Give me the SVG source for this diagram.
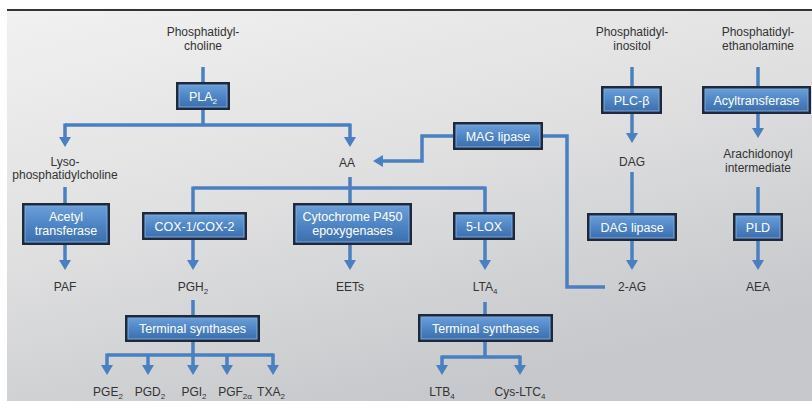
<svg xmlns="http://www.w3.org/2000/svg" width="812" height="401" viewBox="0 0 812 401">
<style>
.lbl{font-family:"Liberation Sans",Arial,sans-serif;font-size:12px;fill:#333;text-anchor:middle}
.btx{font-family:"Liberation Sans",Arial,sans-serif;font-size:12.5px;fill:#fff;text-anchor:middle}
.sub{font-size:8px}
.outer{fill:#1d2a3d}
.inner{fill:url(#boxg);stroke:#7fa9dd;stroke-width:1}
.ln{fill:none;stroke:#4a7fc0;stroke-width:3.5;stroke-linejoin:miter}
.ar{marker-end:url(#ah)}
</style>
<defs>
<linearGradient id="bg" x1="0" y1="0" x2="0.5" y2="1">
<stop offset="0" stop-color="#f1f1f1"/>
<stop offset="0.5" stop-color="#e0e0e1"/>
<stop offset="1" stop-color="#c6c8cb"/>
</linearGradient>
<linearGradient id="boxg" x1="0" y1="0" x2="0" y2="1">
<stop offset="0" stop-color="#6a9ed8"/>
<stop offset="0.5" stop-color="#4f86c6"/>
<stop offset="1" stop-color="#3c6fae"/>
</linearGradient>
<marker id="ah" markerUnits="userSpaceOnUse" viewBox="0 0 10 12" markerWidth="10" markerHeight="12" refX="1" refY="6" orient="auto">
<path d="M0,0 L10,6 L0,12 z" fill="#4a7fc0"/>
</marker>
</defs>
<rect x="0" y="0" width="812" height="401" fill="#ffffff"/>
<rect x="7" y="10" width="805" height="391" fill="url(#bg)"/>
<line x1="7" y1="10" x2="812" y2="10" stroke="#333" stroke-width="2"/>

<g id="connectors">
<path class="ln" d="M203,67 V82"/>
<path class="ln" d="M203,110 V125 M65,125 H350"/>
<path class="ln ar" d="M65,123.5 V138"/>
<path class="ln ar" d="M350,123.5 V138"/>
<path class="ln" d="M65,187 V203"/>
<path class="ln ar" d="M65,245 V261"/>
<path class="ln" d="M350,177 V188 M193,188 H485 M193,186.5 V212 M350,188 V203 M485,186.5 V212"/>
<path class="ln ar" d="M193,240 V261"/>
<path class="ln ar" d="M350,245 V261"/>
<path class="ln ar" d="M485,240 V261"/>
<path class="ln" d="M193,300 V315 M193,342 V355 M107,355 H273"/>
<path class="ln ar" d="M107,353.5 V366"/>
<path class="ln ar" d="M148,355 V366"/>
<path class="ln ar" d="M193,355 V366"/>
<path class="ln ar" d="M227,355 V366"/>
<path class="ln ar" d="M273,353.5 V366"/>
<path class="ln" d="M485,302 V314 M485,342 V357 M442,357 H520"/>
<path class="ln ar" d="M442,355.5 V366"/>
<path class="ln ar" d="M520,355.5 V366"/>
<path class="ln" d="M605,287 H567 V136 H543"/>
<path class="ln ar" d="M453,136 H422 V161 H382"/>
<path class="ln" d="M632,67 V86"/>
<path class="ln ar" d="M632,114 V134"/>
<path class="ln" d="M632,172 V213"/>
<path class="ln ar" d="M632,241 V261"/>
<path class="ln" d="M758,67 V86"/>
<path class="ln ar" d="M758,114 V129"/>
<path class="ln" d="M758,187 V213"/>
<path class="ln ar" d="M758,241 V261"/>
</g>

<g id="pc"><text class="lbl" x="203" y="36">Phosphatidyl-</text><text class="lbl" x="203" y="50">choline</text></g>
<g id="pi"><text class="lbl" x="632" y="36">Phosphatidyl-</text><text class="lbl" x="632" y="50">inositol</text></g>
<g id="pe"><text class="lbl" x="758" y="36">Phosphatidyl-</text><text class="lbl" x="758" y="50">ethanolamine</text></g>

<g id="pla2"><rect class="outer" x="176" y="82" width="54" height="28"/><rect class="inner" x="179" y="85" width="48" height="22"/><text class="btx" x="203" y="100.5">PLA<tspan class="sub" dy="3">2</tspan></text></g>
<g id="plcb"><rect class="outer" x="601" y="86" width="61" height="28"/><rect class="inner" x="604" y="89" width="55" height="22"/><text class="btx" x="631.5" y="104.5">PLC-β</text></g>
<g id="acyl"><rect class="outer" x="702" y="86" width="109" height="28"/><rect class="inner" x="705" y="89" width="103" height="22"/><text class="btx" x="756.5" y="104.5">Acyltransferase</text></g>
<g id="mag"><rect class="outer" x="453" y="122" width="90" height="28"/><rect class="inner" x="456" y="125" width="84" height="22"/><text class="btx" x="498" y="140.5">MAG lipase</text></g>

<g id="lyso"><text class="lbl" x="65" y="166">Lyso-</text><text class="lbl" x="65" y="179">phosphatidylcholine</text></g>
<g id="aa"><text class="lbl" x="347" y="167">AA</text></g>
<g id="dag"><text class="lbl" x="632" y="166">DAG</text></g>
<g id="arach"><text class="lbl" x="758" y="158">Arachidonoyl</text><text class="lbl" x="758" y="172">intermediate</text></g>

<g id="acetyl"><rect class="outer" x="22" y="203" width="88" height="42"/><rect class="inner" x="25" y="206" width="82" height="36"/><text class="btx" x="66" y="221">Acetyl</text><text class="btx" x="66" y="235">transferase</text></g>
<g id="cox"><rect class="outer" x="142" y="212" width="105" height="28"/><rect class="inner" x="145" y="215" width="99" height="22"/><text class="btx" x="194.5" y="230.5">COX-1/COX-2</text></g>
<g id="cyp"><rect class="outer" x="293" y="203" width="119" height="42"/><rect class="inner" x="296" y="206" width="113" height="36"/><text class="btx" x="352.5" y="221">Cytochrome P450</text><text class="btx" x="352.5" y="235">epoxygenases</text></g>
<g id="lox"><rect class="outer" x="453" y="212" width="62" height="28"/><rect class="inner" x="456" y="215" width="56" height="22"/><text class="btx" x="484" y="230.5">5-LOX</text></g>
<g id="daglip"><rect class="outer" x="587" y="213" width="90" height="28"/><rect class="inner" x="590" y="216" width="84" height="22"/><text class="btx" x="632" y="231.5">DAG lipase</text></g>
<g id="pld"><rect class="outer" x="733" y="213" width="50" height="28"/><rect class="inner" x="736" y="216" width="44" height="22"/><text class="btx" x="758" y="231.5">PLD</text></g>

<g id="paf"><text class="lbl" x="65" y="291">PAF</text></g>
<g id="pgh2"><text class="lbl" x="193" y="291">PGH<tspan class="sub" dy="3">2</tspan></text></g>
<g id="eets"><text class="lbl" x="350" y="291">EETs</text></g>
<g id="lta4"><text class="lbl" x="485" y="291">LTA<tspan class="sub" dy="3">4</tspan></text></g>
<g id="ag2"><text class="lbl" x="632" y="291">2-AG</text></g>
<g id="aea"><text class="lbl" x="758" y="291">AEA</text></g>

<g id="ts1"><rect class="outer" x="125" y="315" width="135" height="27"/><rect class="inner" x="128" y="318" width="129" height="21"/><text class="btx" x="192.5" y="333">Terminal synthases</text></g>
<g id="ts2"><rect class="outer" x="418" y="314" width="135" height="28"/><rect class="inner" x="421" y="317" width="129" height="22"/><text class="btx" x="485.5" y="332.5">Terminal synthases</text></g>

<g id="pge2"><text class="lbl" x="108" y="396">PGE<tspan class="sub" dy="3">2</tspan></text></g>
<g id="pgd2"><text class="lbl" x="150" y="396">PGD<tspan class="sub" dy="3">2</tspan></text></g>
<g id="pgi2"><text class="lbl" x="194" y="396">PGI<tspan class="sub" dy="3">2</tspan></text></g>
<g id="pgf2a"><text class="lbl" x="235" y="396">PGF<tspan class="sub" dy="3">2α</tspan></text></g>
<g id="txa2"><text class="lbl" x="271" y="396">TXA<tspan class="sub" dy="3">2</tspan></text></g>
<g id="ltb4"><text class="lbl" x="442" y="396">LTB<tspan class="sub" dy="3">4</tspan></text></g>
<g id="cysltc4"><text class="lbl" x="520" y="396">Cys-LTC<tspan class="sub" dy="3">4</tspan></text></g>
</svg>
